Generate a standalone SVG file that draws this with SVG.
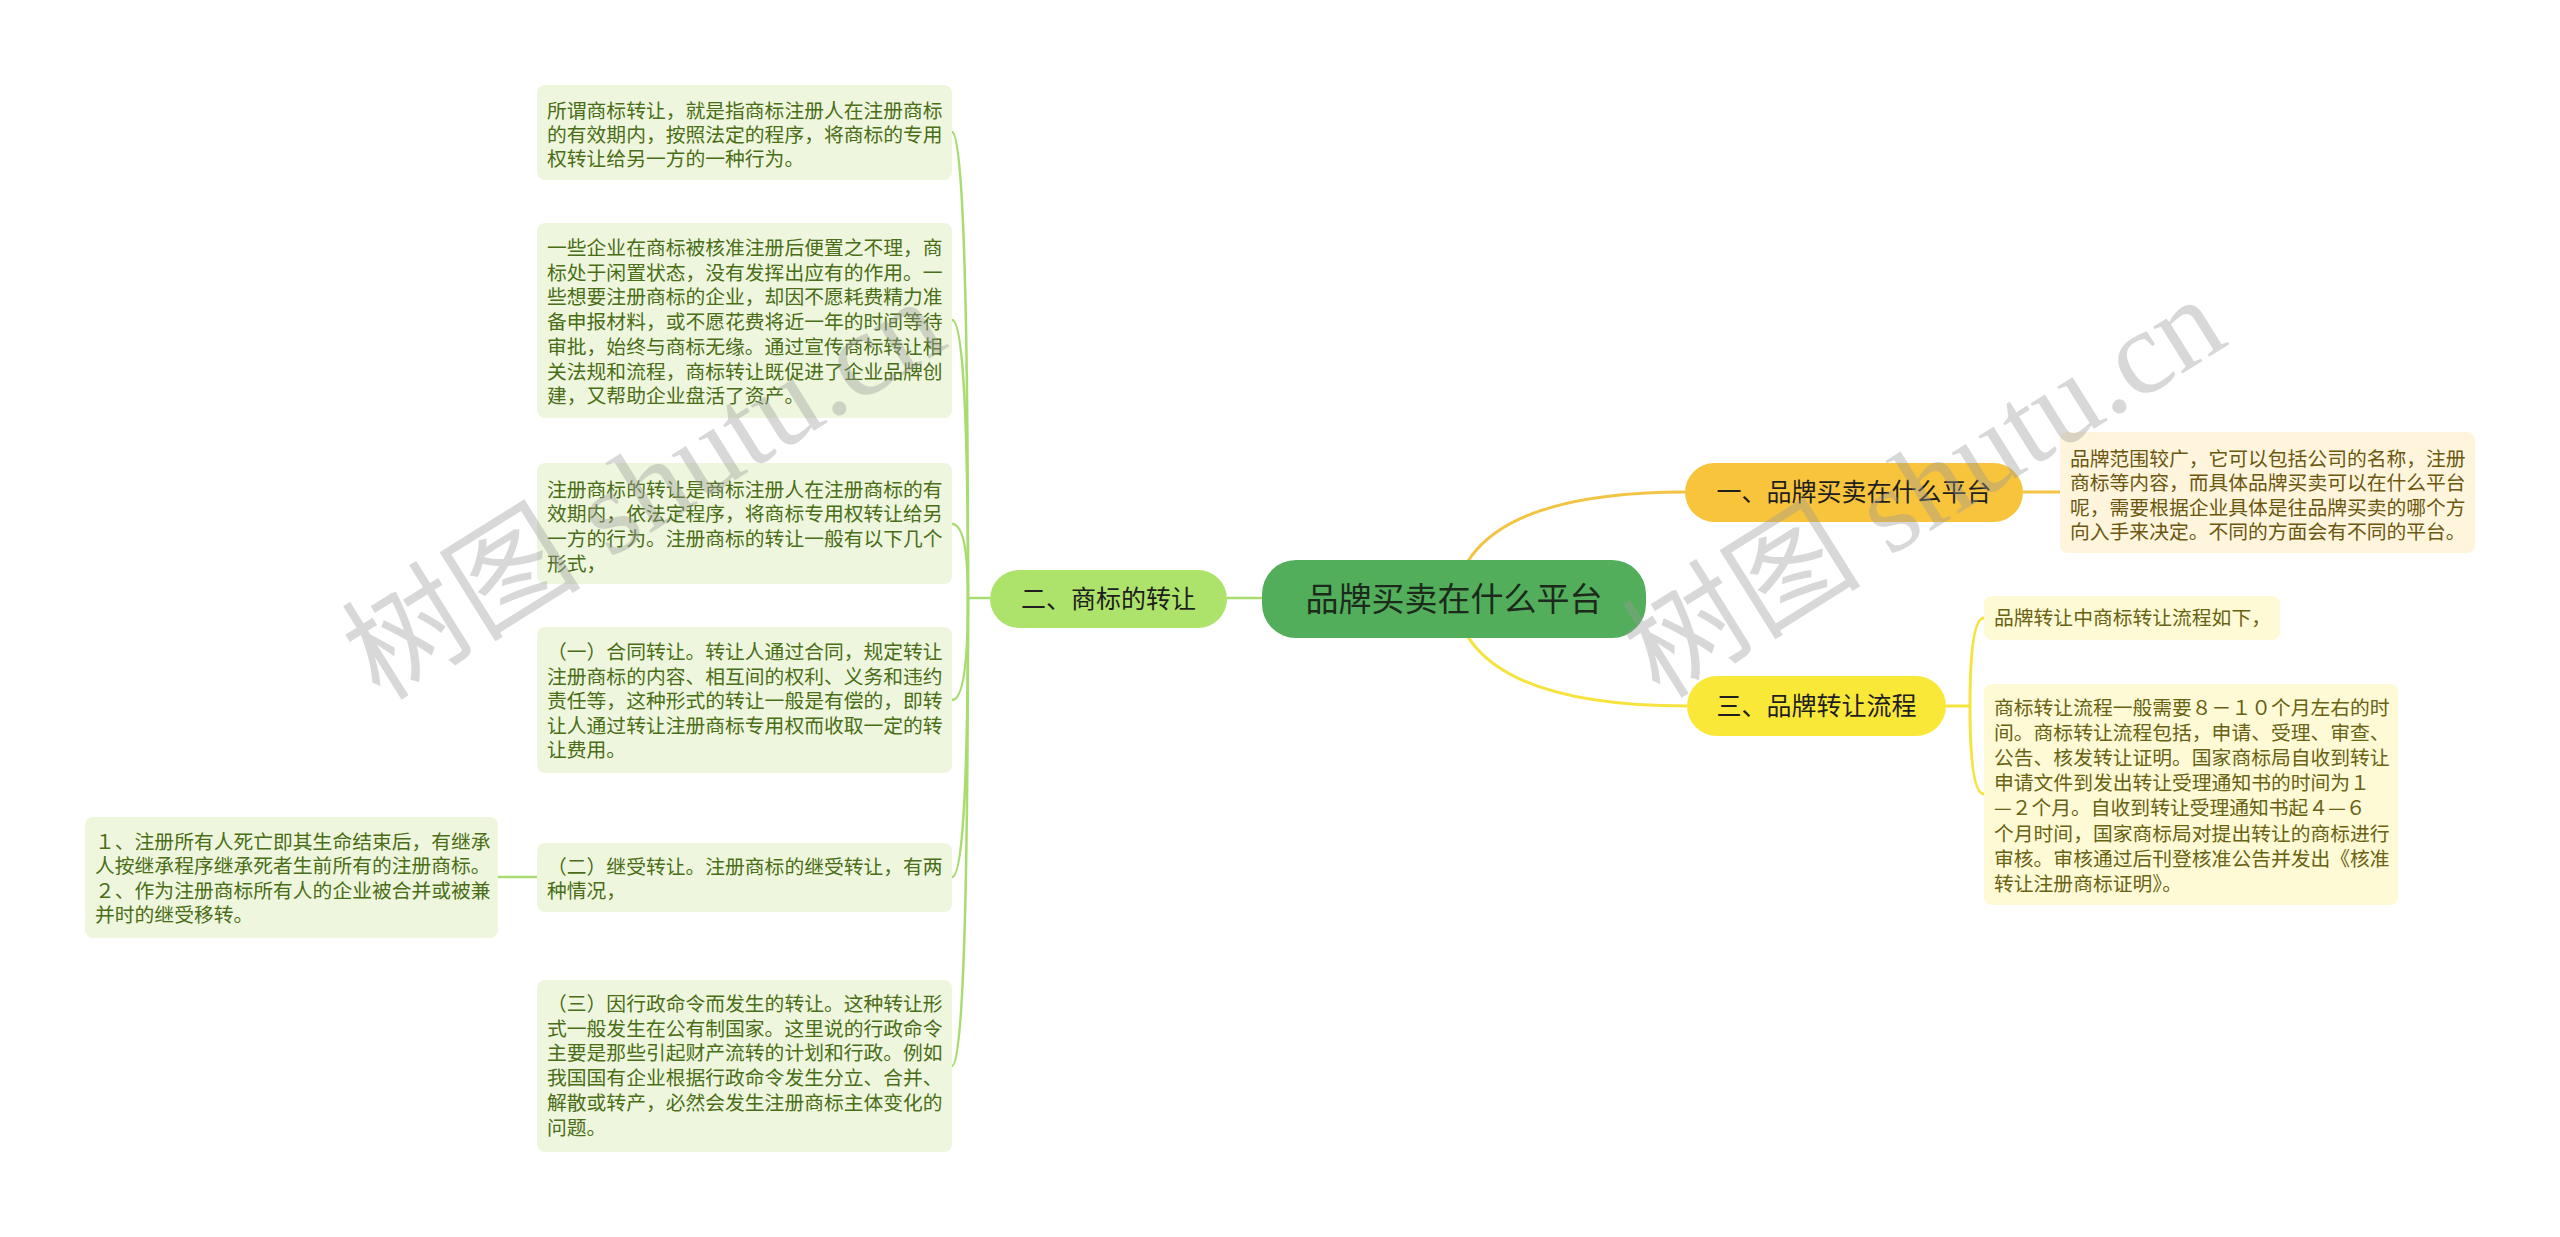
<svg xmlns="http://www.w3.org/2000/svg" width="2560" height="1237" viewBox="0 0 2560 1237">
<style>
text{font-family:"Noto Sans CJK SC","Noto Sans",sans-serif;}
.leafG rect{fill:#eef7dd;}
.leafG text{font-size:19.8px;fill:#4a6d17;}
.leafO rect{fill:#fef5dc;}
.leafO text{font-size:19.8px;fill:#6b5710;}
.leafY rect{fill:#fefad6;}
.leafY text{font-size:19.8px;fill:#686212;}
.main text{font-size:25px;fill:#1e1e1e;text-anchor:middle;}
.cg path{fill:none;stroke:#a9dc6e;stroke-width:2.5;}
.co path{fill:none;stroke:#f2c444;stroke-width:3;}
.cy path{fill:none;stroke:#f6e33e;stroke-width:3;}
.wm{font-family:"Liberation Serif","Noto Sans CJK SC",serif;font-size:120px;fill:#9a9a9a;opacity:0.38;}
</style>
<rect width="2560" height="1237" fill="#ffffff"/>
<g id="connectors">
 <g class="cg">
  <path d="M1262,598 L1227,598"/>
  <path d="M990,598 L968,598"/>
  <path d="M968,598 Q968,132 952,132"/>
  <path d="M968,598 Q968,320 952,320"/>
  <path d="M968,598 Q968,524 952,524"/>
  <path d="M968,598 Q968,700 952,700"/>
  <path d="M968,598 Q968,877 952,877"/>
  <path d="M968,598 Q968,1066 952,1066"/>
  <path d="M537,877 L498,877"/>
 </g>
 <g class="co">
  <path d="M1454,599 Q1470,492 1686,492"/>
  <path d="M2023,492 L2060,492"/>
 </g>
 <g class="cy">
  <path d="M1454,599 Q1470,706 1687,706"/>
  <path d="M1946,706 L1970,706"/>
  <path d="M1970,706 Q1970,618 1984,618"/>
  <path d="M1970,706 Q1970,794 1984,794"/>
 </g>
</g>
<g id="root">
 <rect x="1262" y="560" width="384" height="78" rx="34" fill="#52ae5a"/>
 <text x="1454" y="611" font-size="33" fill="#1c2a1c" text-anchor="middle">品牌买卖在什么平台</text>
</g>
<g id="n-yi" class="main">
 <rect x="1685" y="463" width="338" height="59" rx="29.5" fill="#f7c43c"/>
 <text x="1854" y="501">一、品牌买卖在什么平台</text>
</g>
<g id="n-er" class="main">
 <rect x="990" y="570" width="237" height="58" rx="29" fill="#ade36a"/>
 <text x="1108.5" y="607.5">二、商标的转让</text>
</g>
<g id="n-san" class="main">
 <rect x="1687" y="676" width="259" height="60" rx="30" fill="#fae838"/>
 <text x="1816.5" y="715">三、品牌转让流程</text>
</g>
<g id="r1" class="leafO">
 <rect x="2060" y="432" width="415" height="121" rx="8"/>
 <text x="2070" y="466">品牌范围较广，它可以包括公司的名称，注册</text>
 <text x="2070" y="490">商标等内容，而具体品牌买卖可以在什么平台</text>
 <text x="2070" y="514.5">呢，需要根据企业具体是往品牌买卖的哪个方</text>
 <text x="2070" y="539">向入手来决定。不同的方面会有不同的平台。</text>
</g>
<g id="r2" class="leafY">
 <rect x="1984" y="596" width="296" height="44" rx="8"/>
 <text x="1994" y="625">品牌转让中商标转让流程如下，</text>
</g>
<g id="r3" class="leafY">
 <rect x="1984" y="684" width="414" height="221" rx="8"/>
 <text x="1994" y="715">商标转让流程一般需要８－１０个月左右的时</text>
 <text x="1994" y="740">间。商标转让流程包括，申请、受理、审查、</text>
 <text x="1994" y="765">公告、核发转让证明。国家商标局自收到转让</text>
 <text x="1994" y="790">申请文件到发出转让受理通知书的时间为１</text>
 <text x="1994" y="815">—２个月。自收到转让受理通知书起４—６</text>
 <text x="1994" y="841">个月时间，国家商标局对提出转让的商标进行</text>
 <text x="1994" y="866">审核。审核通过后刊登核准公告并发出《核准</text>
 <text x="1994" y="891">转让注册商标证明》。</text>
</g>
<g id="l1" class="leafG">
 <rect x="537" y="85" width="415" height="95" rx="8"/>
 <text x="547" y="118">所谓商标转让，就是指商标注册人在注册商标</text>
 <text x="547" y="142">的有效期内，按照法定的程序，将商标的专用</text>
 <text x="547" y="166">权转让给另一方的一种行为。</text>
</g>
<g id="l2" class="leafG">
 <rect x="537" y="223" width="415" height="195" rx="8"/>
 <text x="547" y="255">一些企业在商标被核准注册后便置之不理，商</text>
 <text x="547" y="279.7">标处于闲置状态，没有发挥出应有的作用。一</text>
 <text x="547" y="304.4">些想要注册商标的企业，却因不愿耗费精力准</text>
 <text x="547" y="329">备申报材料，或不愿花费将近一年的时间等待</text>
 <text x="547" y="353.8">审批，始终与商标无缘。通过宣传商标转让相</text>
 <text x="547" y="378.5">关法规和流程，商标转让既促进了企业品牌创</text>
 <text x="547" y="403.2">建，又帮助企业盘活了资产。</text>
</g>
<g id="l3" class="leafG">
 <rect x="537" y="463" width="415" height="121" rx="8"/>
 <text x="547" y="496.5">注册商标的转让是商标注册人在注册商标的有</text>
 <text x="547" y="521">效期内，依法定程序，将商标专用权转让给另</text>
 <text x="547" y="546">一方的行为。注册商标的转让一般有以下几个</text>
 <text x="547" y="570.5">形式，</text>
</g>
<g id="l4" class="leafG">
 <rect x="537" y="627" width="415" height="146" rx="8"/>
 <text x="547" y="659">（一）合同转让。转让人通过合同，规定转让</text>
 <text x="547" y="683.5">注册商标的内容、相互间的权利、义务和违约</text>
 <text x="547" y="708">责任等，这种形式的转让一般是有偿的，即转</text>
 <text x="547" y="732.5">让人通过转让注册商标专用权而收取一定的转</text>
 <text x="547" y="757">让费用。</text>
</g>
<g id="l5" class="leafG">
 <rect x="537" y="843" width="415" height="69" rx="8"/>
 <text x="547" y="873.5">（二）继受转让。注册商标的继受转让，有两</text>
 <text x="547" y="898">种情况，</text>
</g>
<g id="l6" class="leafG">
 <rect x="85" y="817" width="413" height="121" rx="8"/>
 <text x="95" y="849">１、注册所有人死亡即其生命结束后，有继承</text>
 <text x="95" y="873">人按继承程序继承死者生前所有的注册商标。</text>
 <text x="95" y="897.5">２、作为注册商标所有人的企业被合并或被兼</text>
 <text x="95" y="922">并时的继受移转。</text>
</g>
<g id="l7" class="leafG">
 <rect x="537" y="980" width="415" height="172" rx="8"/>
 <text x="547" y="1011">（三）因行政命令而发生的转让。这种转让形</text>
 <text x="547" y="1035.7">式一般发生在公有制国家。这里说的行政命令</text>
 <text x="547" y="1060.4">主要是那些引起财产流转的计划和行政。例如</text>
 <text x="547" y="1085">我国国有企业根据行政命令发生分立、合并、</text>
 <text x="547" y="1109.8">解散或转产，必然会发生注册商标主体变化的</text>
 <text x="547" y="1134.5">问题。</text>
</g>
<g id="watermarks">
 <text class="wm" transform="translate(380,702) rotate(-32)">树图 shutu.cn</text>
 <text class="wm" transform="translate(1660,700) rotate(-32)">树图 shutu.cn</text>
</g>
</svg>
